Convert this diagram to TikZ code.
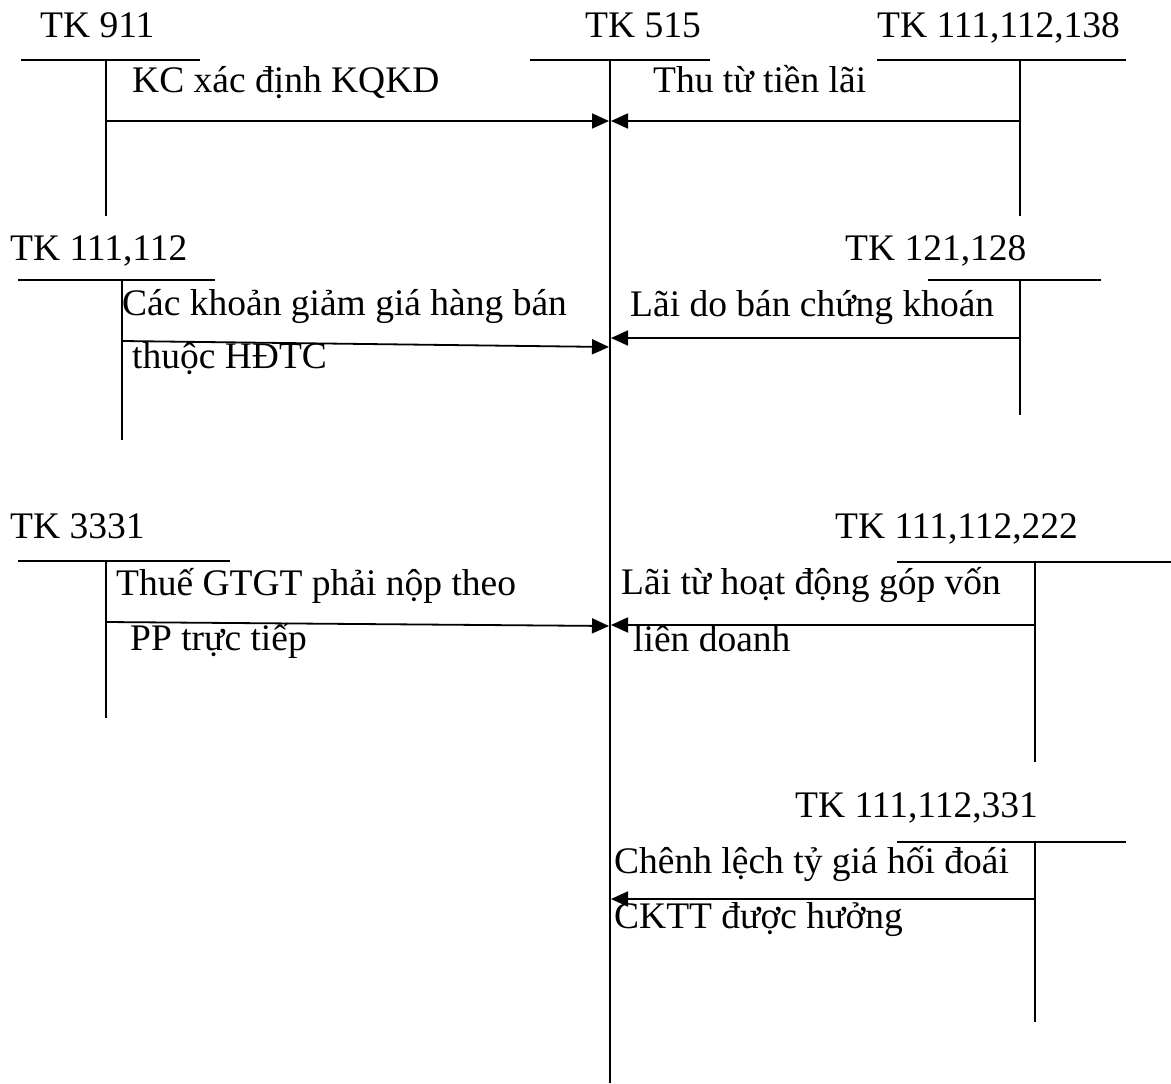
\documentclass[tikz,border=0pt]{standalone}
\usepackage{fontspec}
\setmainfont{Liberation Serif}
\usetikzlibrary{arrows.meta}
\begin{document}
\begin{tikzpicture}[x=1pt,y=-1pt,
  acc/.style={line width=1.6pt},
  flow/.style={line width=1.8pt,-{Triangle[length=17pt,width=15pt]}},
  lbl/.style={anchor=base west,inner sep=0pt,font=\fontsize{37.5}{42}\selectfont}]
\useasboundingbox (0,0) rectangle (1171,1084);
% ---- account titles
\node[lbl] (t911) at (40,37) {TK 911};
\node[lbl] (t515) at (585,37) {TK 515};
\node[lbl] (t138) at (877,37) {TK 111,112,138};
\node[lbl] (t112) at (10,260) {TK 111,112};
\node[lbl] (t128) at (845,260) {TK 121,128};
\node[lbl] (t3331) at (10,538) {TK 3331};
\node[lbl] (t222) at (835,538) {TK 111,112,222};
\node[lbl] (t331) at (795,817) {TK 111,112,331};
% ---- T-account coordinates
\coordinate (a1l) at (21,60);  \coordinate (a1r) at (200,60);
\coordinate (a1t) at (106,60); \coordinate (a1b) at (106,216);
\coordinate (m1l) at (530,60); \coordinate (m1r) at (710,60);
\coordinate (mt) at (610,60);  \coordinate (mb) at (610,1083);
\coordinate (b1l) at (877,60); \coordinate (b1r) at (1126,60);
\coordinate (b1t) at (1020,60); \coordinate (b1b) at (1020,216);
\coordinate (a2l) at (18,280); \coordinate (a2r) at (215,280);
\coordinate (a2t) at (122,280); \coordinate (a2b) at (122,440);
\coordinate (b2l) at (928,280); \coordinate (b2r) at (1101,280);
\coordinate (b2t) at (1020,280); \coordinate (b2b) at (1020,415);
\coordinate (a3l) at (18,561); \coordinate (a3r) at (230,561);
\coordinate (a3t) at (106,561); \coordinate (a3b) at (106,718);
\coordinate (b3l) at (897,562); \coordinate (b3r) at (1171,562);
\coordinate (b3t) at (1035,562); \coordinate (b3b) at (1035,762);
\coordinate (b4l) at (897,842); \coordinate (b4r) at (1126,842);
\coordinate (b4t) at (1035,842); \coordinate (b4b) at (1035,1022);
\foreach \p in {a1,m1,b1,a2,b2,a3,b3,b4} {\draw[acc] (\p l) -- (\p r);}
\foreach \p in {a1,b1,a2,b2,a3,b3,b4} {\draw[acc] (\p t) -- (\p b);}
\draw[acc] (mt) -- (mb);
% ---- flows
\coordinate (f1s) at (106,121); \coordinate (f1e) at (609,121);
\coordinate (g1s) at (1020,121); \coordinate (g1e) at (611,121);
\coordinate (f2s) at (122,341); \coordinate (f2e) at (609,347);
\coordinate (g2s) at (1020,338); \coordinate (g2e) at (611,338);
\coordinate (f3s) at (106,622); \coordinate (f3e) at (609,626);
\coordinate (g3s) at (1035,625); \coordinate (g3e) at (611,625);
\coordinate (g4s) at (1035,899); \coordinate (g4e) at (611,899);
\draw[flow] (f1s) -- (f1e);
\draw[flow] (g1s) -- (g1e);
\draw[flow] (f2s) -- (f2e);
\draw[flow] (g2s) -- (g2e);
\draw[flow] (f3s) -- (f3e);
\draw[flow] (g3s) -- (g3e);
\draw[flow] (g4s) -- (g4e);
% ---- flow labels
\node[lbl] (l1) at (132,92) {KC xác định KQKD};
\node[lbl] (r1) at (653,92) {Thu từ tiền lãi};
\node[lbl] (l2a) at (122,315) {Các khoản giảm giá hàng bán};
\node[lbl] (l2b) at (132,368) {thuộc HĐTC};
\node[lbl] (r2) at (630,316) {Lãi do bán chứng khoán};
\node[lbl] (l3a) at (116,595) {Thuế GTGT phải nộp theo};
\node[lbl] (l3b) at (130,650) {PP trực tiếp};
\node[lbl] (r3a) at (621,594) {Lãi từ hoạt động góp vốn};
\node[lbl] (r3b) at (633,651) {liên doanh};
\node[lbl] (r4a) at (614,873) {Chênh lệch tỷ giá hối đoái};
\node[lbl] (r4b) at (614,928) {CKTT được hưởng};
\end{tikzpicture}
\end{document}
